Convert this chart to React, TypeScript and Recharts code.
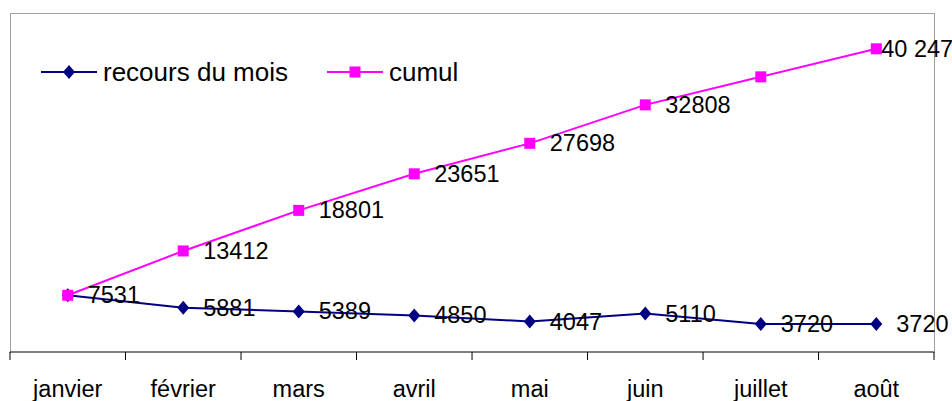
import React from "react";
import { LineChart, Line, XAxis, YAxis, LabelList } from "recharts";

const months = ["janvier", "février", "mars", "avril", "mai", "juin", "juillet", "août"];
const recours = [7531, 5881, 5389, 4850, 4047, 5110, 3720, 3720];
const cumul = [7531, 13412, 18801, 23651, 27698, 32808, 36528, 40247];
// labels as printed on the chart (janvier shown once, juillet not shown)
const cumulLabels = ["", "13412", "18801", "23651", "27698", "32808", "", "40 247"];

const data = months.map((m, i) => ({ month: m, recours: recours[i], cumul: cumul[i] }));

const FONT = "'Liberation Sans', Arial, sans-serif";
const NAVY = "#000080";
const MAGENTA = "#FF00FF";
const HALF = 808 / 7 / 2;

function Diamond(props: any) {
  const { cx, cy } = props;
  if (cx == null || cy == null) return null;
  return (
    <path
      d={`M${cx},${cy - 7} L${cx + 6},${cy} L${cx},${cy + 7} L${cx - 6},${cy} Z`}
      fill={NAVY}
    />
  );
}

function Square(props: any) {
  const { cx, cy } = props;
  if (cx == null || cy == null) return null;
  return <rect x={cx - 5.5} y={cy - 5.5} width={11} height={11} fill={MAGENTA} />;
}

function MonthTick(props: any) {
  const { x, y, payload, index } = props;
  return (
    <g>
      <line x1={x - HALF} y1={y} x2={x - HALF} y2={y + 8} stroke="#000" />
      {index === months.length - 1 && (
        <line x1={x + HALF} y1={y} x2={x + HALF} y2={y + 8} stroke="#000" />
      )}
      <text x={x} y={y + 45} textAnchor="middle" fontSize={23.5} fontFamily={FONT} fill="#000">
        {payload.value}
      </text>
    </g>
  );
}

function RecoursLabel(props: any) {
  const { x, y, value } = props;
  return (
    <text x={x + 20} y={y} dominantBaseline="central" fontSize={23.5} fontFamily={FONT} fill="#000">
      {value}
    </text>
  );
}

function CumulLabel(props: any) {
  const { x, y, index } = props;
  const txt = cumulLabels[index];
  if (!txt) return null;
  const dx = index === months.length - 1 ? 5 : 20;
  return (
    <text x={x + dx} y={y} dominantBaseline="central" fontSize={23.5} fontFamily={FONT} fill="#000">
      {txt}
    </text>
  );
}

function ChartLegend() {
  const item = (left: number, color: string, marker: React.ReactNode, label: string) => (
    <div style={{ position: "absolute", left, top: 58, height: 28, display: "flex", alignItems: "center" }}>
      <svg width={58} height={28} style={{ display: "block" }}>
        <line x1={0} y1={14} x2={56} y2={14} stroke={color} strokeWidth={2} />
        {marker}
      </svg>
      <span style={{ fontFamily: FONT, fontSize: 26, color: "#000", marginLeft: 4, lineHeight: "28px" }}>
        {label}
      </span>
    </div>
  );
  return (
    <div style={{ position: "absolute", left: 0, top: 0, width: 952, height: 100 }}>
      {item(41, NAVY, <path d="M28,7 L34,14 L28,21 L22,14 Z" fill={NAVY} />, "recours du mois")}
      {item(327, MAGENTA, <rect x={22.5} y={8.5} width={11} height={11} fill={MAGENTA} />, "cumul")}
    </div>
  );
}

export default function App() {
  return (
    <div style={{ position: "absolute", left: 0, top: 0, width: 952, height: 401, background: "#fff" }}>
      <div
        style={{
          position: "absolute",
          left: 10,
          top: 13,
          width: 923,
          height: 339,
          borderLeft: "1px solid #a0a0a0",
          borderTop: "1px solid #a0a0a0",
          borderRight: "1px solid #a0a0a0",
        }}
      />
      <ChartLegend />
      <LineChart
        width={952}
        height={401}
        data={data}
        margin={{ top: 13, right: 18, bottom: 0, left: 10 }}
        style={{ position: "absolute", left: 0, top: 0 }}
      >
        <XAxis
          dataKey="month"
          scale="point"
          padding={{ left: HALF, right: HALF }}
          axisLine={{ stroke: "#000" }}
          tickLine={false}
          tickSize={0}
          tickMargin={0}
          interval={0}
          tick={<MonthTick />}
          height={49}
        />
        <YAxis hide domain={[0, 45000]} />
        <Line
          dataKey="recours"
          stroke={NAVY}
          strokeWidth={2}
          dot={<Diamond />}
          activeDot={false}
          isAnimationActive={false}
        >
          <LabelList dataKey="recours" content={<RecoursLabel />} />
        </Line>
        <Line
          dataKey="cumul"
          stroke={MAGENTA}
          strokeWidth={2}
          dot={<Square />}
          activeDot={false}
          isAnimationActive={false}
        >
          <LabelList dataKey="cumul" content={<CumulLabel />} />
        </Line>
      </LineChart>
    </div>
  );
}
